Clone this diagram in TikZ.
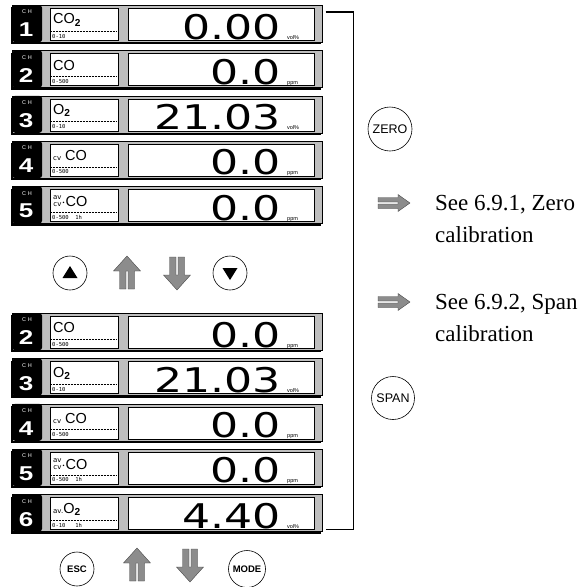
\documentclass[tikz,border=0pt]{standalone}
\usepackage{fontspec}
\usepackage{graphicx}
\setmainfont{Liberation Serif}
\newfontfamily\keyfont{Liberation Sans}
\newfontfamily\lcdfont{DejaVu Sans}
\newfontfamily\lcdmono{DejaVu Sans Mono}
\usetikzlibrary{calc, positioning, shadows}
\definecolor{frameGray}{HTML}{BEBEBE}
\definecolor{steelDark}{HTML}{8C8C8C}

\tikzset{
  panel/.style={draw=black, line width=0.5pt, fill=frameGray, minimum width=310pt,
    minimum height=37pt, inner sep=0pt, anchor=north west,
    drop shadow={shadow xshift=-1pt, shadow yshift=-2.2pt, opacity=1, fill=black}},
  badge/.style={fill=black, rounded corners=3pt, minimum width=30pt, minimum height=37pt,
    inner sep=0pt, anchor=north west},
  namebox/.style={draw=black, line width=0.4pt, fill=white, minimum width=68pt,
    minimum height=32pt, inner sep=0pt, anchor=north west},
  valbox/.style={namebox, minimum width=186pt},
  gastext/.style={anchor=west, inner sep=0pt, font=\keyfont\fontsize{14.5}{14.5}\selectfont},
  rangetext/.style={anchor=west, inner sep=0pt, font=\lcdmono\fontsize{5.5}{5.5}\selectfont},
  readout/.style={anchor=base east, inner sep=0pt, font=\lcdfont\fontsize{34}{34}\selectfont},
  unittext/.style={anchor=base west, inner sep=0pt, font=\keyfont\fontsize{5.5}{5.5}\selectfont},
  keybtn/.style={circle, draw, line width=0.6pt, inner sep=0pt,
    font=\keyfont\fontsize{12.5}{12.5}\selectfont},
  smallkey/.style={keybtn, minimum size=34pt, font=\keyfont\bfseries\fontsize{9.5}{9.5}\selectfont},
  seetext/.style={anchor=west, align=left, inner sep=0pt, font=\fontsize{23}{32}\selectfont},
  updbl/.pic={
    \shadedraw[left color=steelDark, middle color=white, right color=steelDark,
      draw=black!75, line width=0.35pt]
      (-13.5,-2) -- (0,-17) -- (13.5,-2) -- (7.5,-2) -- (7.5,16) -- (1,16) -- (1,-2)
      -- (-1,-2) -- (-1,16) -- (-7.5,16) -- (-7.5,-2) -- cycle;
  },
  rightdbl/.pic={
    \shadedraw[top color=steelDark, middle color=white, bottom color=steelDark,
      draw=black!75, line width=0.35pt]
      (-16,-5.5) -- (4,-5.5) -- (4,-8.5) -- (16,0) -- (4,8.5) -- (4,5.5) -- (-16,5.5)
      -- (-16,1) -- (4,1) -- (4,-1) -- (-16,-1) -- cycle;
  }
}

\newcommand\prefix[1]{{\lcdfont\fontsize{7}{6}\selectfont #1}}

\begin{document}
\begin{tikzpicture}[x=1pt, y=-1pt]
\useasboundingbox (0,0) rectangle (587,587);

% Channel panels, upper list and lower list
\foreach \nm/\yy/\ch/\gas/\rng/\val/\unit in {
  top1/5/1/{CO\textsubscript{\bfseries 2}}/0-10/0.00/vol\%,
  top2/50.3/2/CO/0-500/0.0/ppm,
  top3/95.6/3/{O\textsubscript{\bfseries 2}}/0-10/21.03/vol\%,
  top4/140.9/4/{\prefix{cv} CO}/0-500/0.0/ppm,
  top5/186.2/5/{\shortstack{\prefix{av}\\\prefix{cv}}$\cdot$CO}/{0-500\ \ 1h}/0.0/ppm,
  bot2/313/2/CO/0-500/0.0/ppm,
  bot3/358.3/3/{O\textsubscript{\bfseries 2}}/0-10/21.03/vol\%,
  bot4/403.6/4/{\prefix{cv} CO}/0-500/0.0/ppm,
  bot5/448.9/5/{\shortstack{\prefix{av}\\\prefix{cv}}$\cdot$CO}/{0-500\ \ 1h}/0.0/ppm,
  bot6/494.2/6/{\prefix{av.}O\textsubscript{\bfseries 2}}/{0-10\ \ \ 1h}/4.40/vol\%} {
  \node[panel] (\nm) at (12,\yy) {};
  \node[badge] at (12,\yy) {};
  \node[white, inner sep=0pt, font=\keyfont\fontsize{5.5}{5.5}\selectfont] at (27,\yy+7) {C\hspace{2pt}H};
  \node[white, inner sep=0pt, font=\keyfont\bfseries\fontsize{20}{20}\selectfont] at (26,\yy+25) {\scalebox{1.3}[1]{\ch}};
  \node[namebox] at (50,\yy+3) {};
  \draw[densely dotted, line width=0.5pt] (51,\yy+26) -- (117,\yy+26);
  \node[gastext] at (53,\yy+15) {\gas};
  \node[rangetext] at (52,\yy+31) {\rng};
  \node[valbox] at (128,\yy+3) {};
  \node[readout] at (281,\yy+34) {\scalebox{1.3}[1]{\val}};
  \node[unittext] at (287,\yy+34) {\unit};
}

% Bracket joining the two lists
\draw[line width=1.4pt] ($(top1.north east)+(3,7)$) -- ++(28,0) |- ($(bot6.north east)+(3,35)$);

% Keys
\node[keybtn, minimum size=44pt] (zero) at (390,129) {ZERO};
\node[keybtn, minimum size=43pt] (span) at (393,398) {SPAN};
\node[keybtn, minimum size=34pt] (keyup) at (70,273) {};
\node[keybtn, minimum size=34pt] (keydown) at (230,273) {};
\fill ($(keyup)+(-7.5,5)$) -- ($(keyup)+(7.5,5)$) -- ($(keyup)+(0,-7)$) -- cycle;
\fill ($(keydown)+(-7.5,-5)$) -- ($(keydown)+(7.5,-5)$) -- ($(keydown)+(0,7)$) -- cycle;
\node[smallkey] (esc) at (77,569) {ESC};
\node[smallkey, minimum size=37pt] (mode) at (247,569) {MODE};

% Scroll arrows
\pic at (127,273) {updbl};
\pic[rotate=180] at (177,273) {updbl};
\pic at (137,565) {updbl};
\pic[rotate=180] at (190,565) {updbl};

% References
\pic at (394,203) {rightdbl};
\node[seetext] (seezero) at (435,219) {See 6.9.1, Zero\\calibration};
\pic at (394,302) {rightdbl};
\node[seetext] (seespan) at (435,318) {See 6.9.2, Span\\calibration};
\end{tikzpicture}
\end{document}
